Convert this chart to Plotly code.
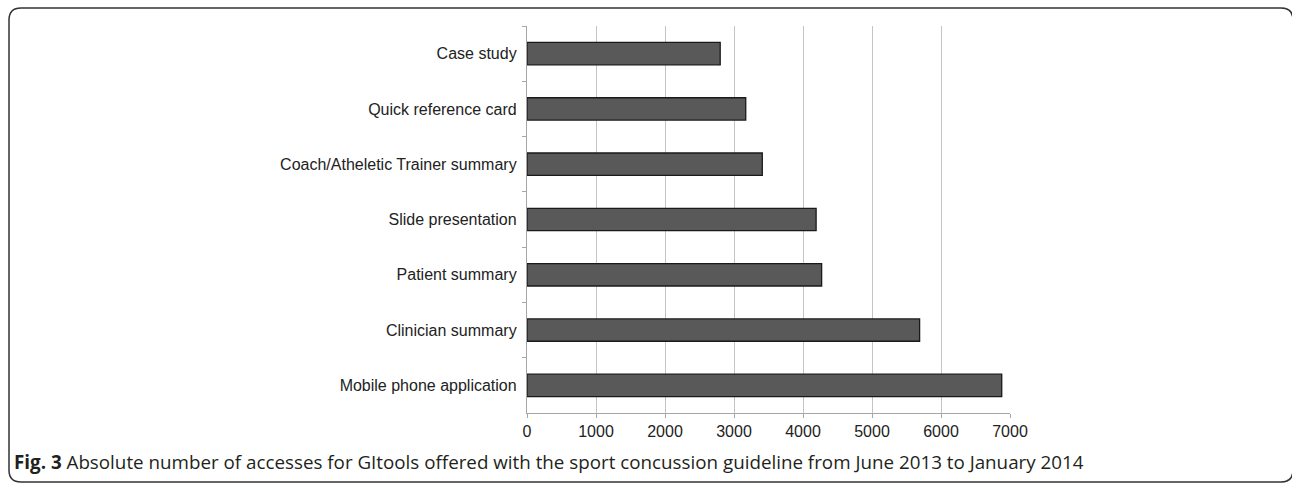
import plotly.graph_objects as go

categories = [
    "Case study",
    "Quick reference card",
    "Coach/Atheletic Trainer summary",
    "Slide presentation",
    "Patient summary",
    "Clinician summary",
    "Mobile phone application",
]
accesses = [2800, 3170, 3410, 4190, 4270, 5690, 6880]
x_ticks = [0, 1000, 2000, 3000, 4000, 5000, 6000, 7000]
caption_bold = "Fig. 3"
caption_text = " Absolute number of accesses for GItools offered with the sport concussion guideline from June 2013 to January 2014"

W, H = 1292, 485
ML, MR, MT, MB = 527, 282, 26, 72
PW, PH = W - ML - MR, H - MT - MB


def px(x):
    return (x - ML) / PW


def py(y):
    return (H - MB - y) / PH


fig = go.Figure()
fig.add_trace(go.Bar(
    x=accesses,
    y=categories,
    orientation="h",
    marker=dict(color="#595959", line=dict(color="#1a1a1a", width=1.3)),
    showlegend=False,
))

# rounded frame
x0, y0, x1, y1, r = 9, 8, 1293, 482, 12
path = (
    f"M {px(x0)},{py(y0 + r)} "
    f"Q {px(x0)},{py(y0)} {px(x0 + r)},{py(y0)} "
    f"L {px(x1 - r)},{py(y0)} "
    f"Q {px(x1)},{py(y0)} {px(x1)},{py(y0 + r)} "
    f"L {px(x1)},{py(y1 - r)} "
    f"Q {px(x1)},{py(y1)} {px(x1 - r)},{py(y1)} "
    f"L {px(x0 + r)},{py(y1)} "
    f"Q {px(x0)},{py(y1)} {px(x0)},{py(y1 - r)} Z"
)

fig.update_layout(
    width=W, height=H,
    margin=dict(l=ML, r=MR, t=MT, b=MB),
    paper_bgcolor="white",
    plot_bgcolor="white",
    bargap=0.595,
    font=dict(family="Liberation Sans, Arial, sans-serif", size=16, color="#222222"),
    xaxis=dict(
        range=[0, 7000],
        tickvals=x_ticks,
        ticktext=[str(v) for v in x_ticks],
        showgrid=True, gridcolor="#c4c4c4", gridwidth=1.4,
        showline=True, linecolor="#a6a6a6", linewidth=1.3,
        ticks="outside", ticklen=4, tickcolor="#a6a6a6", tickwidth=1.3,
        zeroline=False,
        tickfont=dict(size=16, color="#222222"),
        fixedrange=True,
    ),
    yaxis=dict(
        autorange="reversed",
        showgrid=False,
        showline=True, linecolor="#a6a6a6", linewidth=1.3,
        ticks="outside", ticklen=4, tickcolor="#a6a6a6", tickwidth=1.3,
        tickson="boundaries",
        ticklabelstandoff=6,
        tickfont=dict(size=16, color="#222222"),
        fixedrange=True,
    ),
    shapes=[dict(type="path", xref="paper", yref="paper", path=path,
                 line=dict(color="#333333", width=1.5), fillcolor="rgba(0,0,0,0)",
                 layer="above")],
    annotations=[dict(
        xref="paper", yref="paper",
        x=px(12), y=py(462), xanchor="left", yanchor="middle",
        text=f"<b>{caption_bold}</b>{caption_text}",
        showarrow=False,
        font=dict(family="Open Sans, sans-serif", size=18.8, color="#231f20"),
    )],
)

fig.write_html("out.html")
